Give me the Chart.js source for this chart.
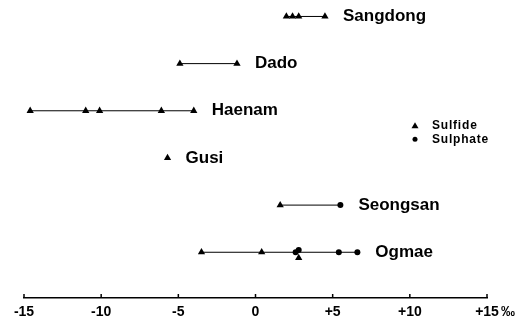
<!DOCTYPE html>
<html><head><meta charset="utf-8">
<script src="https://cdn.jsdelivr.net/npm/chart.js@4"></script>
<style>html,body{margin:0;padding:0;background:#fff}#wrap{width:528px;height:323px;position:relative}</style>
</head><body><div id="wrap"><canvas id="c"></canvas></div>
<script>
const sites = ['Sangdong','Dado','Haenam','Gusi','Seongsan','Ogmae'];
const sulfide = [[2.0,2.4,2.8,4.5],[-4.9,-1.2],[-14.6,-11.0,-10.1,-6.1,-4.0],[-5.7],[1.6],[-3.5,0.4,2.8]];
const sulphate = [[],[],[],[],[5.5],[2.6,2.8,5.4,6.6]];
const xTicks = [-15,-10,-5,0,5,10,15];
const unitLabel = '‰';
const legendLabels = ['Sulfide','Sulphate'];

const FONT = '"Liberation Sans", Arial, Helvetica, sans-serif';
const datasets = [];
sites.forEach((s,i)=>{
  const all = sulfide[i].concat(sulphate[i]);
  const mn = Math.min(...all), mx = Math.max(...all);
  if (mx > mn) datasets.push({type:'line', data:[{x:mn,y:i},{x:mx,y:i}], borderColor:'#000', borderWidth:1, pointRadius:0, showLine:true, order:2});
});
const sfPts = [];
sulfide.forEach((arr,i)=>arr.forEach(v=>{
  const clash = sulphate[i].some(w=>Math.abs(w-v)<0.05);
  sfPts.push({x:v, y: clash ? i+0.12 : i});
}));
const spPts = [];
sulphate.forEach((arr,i)=>arr.forEach(v=>{
  const clash = sulfide[i].some(w=>Math.abs(w-v)<0.05);
  spPts.push({x:v, y: clash ? i-0.05 : i});
}));
datasets.push({type:'scatter', label:legendLabels[0], data:sfPts, pointStyle:'triangle', pointRadius:4.2, backgroundColor:'#000', borderColor:'#000', borderWidth:0, order:1});
datasets.push({type:'scatter', label:legendLabels[1], data:spPts, pointStyle:'circle', pointRadius:3, backgroundColor:'#000', borderColor:'#000', borderWidth:0, order:1});

const deco = {
  id:'deco',
  afterDraw(chart){
    const ctx = chart.ctx, xs = chart.scales.x, ys = chart.scales.y;
    ctx.save();
    ctx.strokeStyle = '#000'; ctx.lineWidth = 1.5;
    xTicks.forEach(v=>{
      const px = xs.getPixelForValue(v);
      ctx.beginPath(); ctx.moveTo(px, ys.bottom); ctx.lineTo(px, ys.bottom-4); ctx.stroke();
    });
    ctx.fillStyle = '#000';
    ctx.textBaseline = 'middle'; ctx.textAlign = 'left';
    ctx.font = 'bold 17px ' + FONT;
    sites.forEach((s,i)=>{
      const all = sulfide[i].concat(sulphate[i]);
      const mx = Math.max(...all);
      ctx.fillText(s, xs.getPixelForValue(mx)+18, ys.getPixelForValue(i));
    });
    // legend
    const lx = xs.right - 72, ly = ys.getPixelForValue(2.32);
    ctx.font = 'bold 12px ' + FONT;
    ctx.letterSpacing = '0.8px';
    ctx.beginPath(); ctx.moveTo(lx, ly-3.5); ctx.lineTo(lx+3.5, ly+2.5); ctx.lineTo(lx-3.5, ly+2.5); ctx.closePath(); ctx.fill();
    ctx.fillText(legendLabels[0], lx+17, ly);
    const ly2 = ly + 13.5;
    ctx.beginPath(); ctx.arc(lx, ly2, 2.5, 0, Math.PI*2); ctx.fill();
    ctx.fillText(legendLabels[1], lx+17, ly2);
    ctx.letterSpacing = '0px';
    // unit
    ctx.font = 'bold 14px ' + FONT;
    ctx.textAlign = 'center';
    ctx.fillText(unitLabel, xs.right+21, ys.bottom+14);
    ctx.restore();
  }
};

new Chart(document.getElementById('c'), {
  data:{datasets},
  options:{
    responsive:true, maintainAspectRatio:false, animation:false,
    layout:{padding:{left:24, right:41, top:0, bottom:1}},
    plugins:{legend:{display:false}, tooltip:{enabled:false}},
    scales:{
      x:{type:'linear', min:-15, max:15,
        afterBuildTicks(s){ s.ticks = xTicks.map(v=>({value:v})); },
        afterFit(s){ s.height = 24; },
        grid:{display:false, drawTicks:false},
        border:{display:true, color:'#000', width:1.5},
        ticks:{color:'#000', padding:6, maxRotation:0, autoSkip:false,
          font:{family:FONT, size:14, weight:'bold'},
          callback:(v)=> v>0 ? '+'+v : ''+v}
      },
      y:{type:'linear', reverse:true, min:-0.26, max:5.97, display:false}
    }
  },
  plugins:[deco]
});
</script>
</body></html>
